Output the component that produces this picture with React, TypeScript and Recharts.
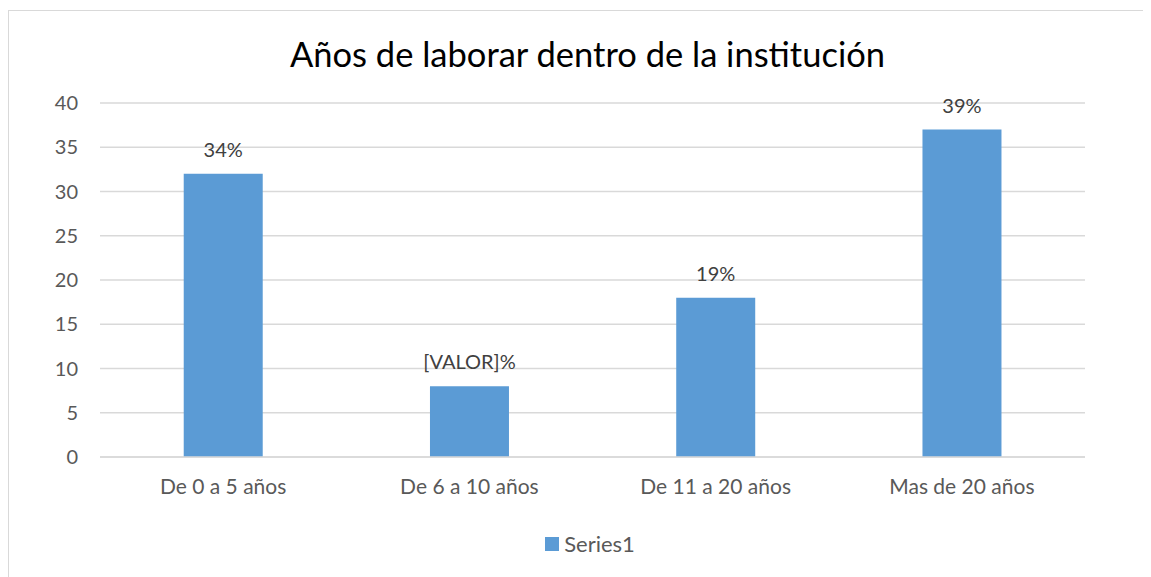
import { BarChart, Bar, XAxis, YAxis, CartesianGrid, LabelList, Legend } from 'recharts';

const categories = ['De 0 a 5 años', 'De 6 a 10 años', 'De 11 a 20 años', 'Mas de 20 años'];
const values = [32, 8, 18, 37];
const percentLabels = ['34%', '[VALOR]%', '19%', '39%'];
const yTicks = [0, 5, 10, 15, 20, 25, 30, 35, 40];

const data = categories.map((name, i) => ({ name, value: values[i], pct: percentLabels[i] }));

const FONT = 'Lato, "Open Sans", sans-serif';

function LegendContent() {
  return (
    <div style={{ display: 'flex', justifyContent: 'center', alignItems: 'center', fontFamily: FONT, fontSize: 22, color: '#595959', paddingLeft: 86 }}>
      <span style={{ width: 14, height: 14, background: '#5B9BD5', display: 'inline-block', marginRight: 5 }} />
      <span>Series1</span>
    </div>
  );
}

export default function App() {
  return (
    <div
      style={{
        position: 'relative',
        marginTop: 2,
        width: 1143,
        height: 567,
        borderLeft: '1px solid #d9d9d9',
        borderTop: '1px solid #d9d9d9',
        background: '#fff',
        overflow: 'hidden',
        boxSizing: 'border-box',
      }}
    >
      <div
        style={{
          position: 'absolute',
          top: 22,
          left: 0,
          width: 1157,
          textAlign: 'center',
          fontFamily: FONT,
          fontSize: 34.5,
          color: '#000',
        }}
      >
        Años de laborar dentro de la institución
      </div>
      <BarChart width={1142} height={566} data={data} margin={{ top: 92, right: 66, left: 0, bottom: 10 }} barCategoryGap="34%">
        <CartesianGrid vertical={false} stroke="#d9d9d9" strokeWidth={1.5} />
        <XAxis
          dataKey="name"
          axisLine={{ stroke: '#d9d9d9', strokeWidth: 1.5 }}
          tickLine={false}
          tickSize={10}
          tickMargin={12}
          height={83}
          tick={{ fill: '#595959', fontSize: 21, fontFamily: FONT }}
        />
        <YAxis
          width={91}
          domain={[0, 40]}
          ticks={yTicks}
          axisLine={false}
          tickLine={false}
          tickSize={10}
          tickMargin={12}
          tick={{ fill: '#595959', fontSize: 20, fontFamily: FONT }}
        />
        <Legend verticalAlign="bottom" content={<LegendContent />} wrapperStyle={{ bottom: 20 }} />
        <Bar dataKey="value" name="Series1" fill="#5B9BD5" isAnimationActive={false}>
          <LabelList dataKey="pct" position="top" offset={17} fill="#404040" fontSize={20} fontFamily={FONT} />
        </Bar>
      </BarChart>
    </div>
  );
}
